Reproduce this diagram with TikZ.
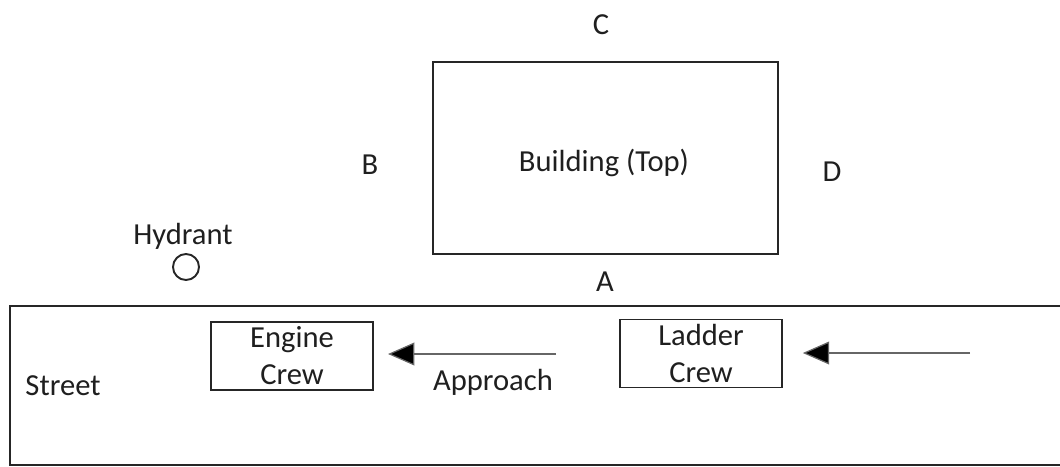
\documentclass[tikz,border=0pt]{standalone}
\usepackage{fontspec}
\setmainfont{Carlito}
\usetikzlibrary{arrows.meta}
\begin{document}
\begin{tikzpicture}[x=0.02cm,y=-0.02cm,
  every node/.style={font=\fontsize{17.4pt}{21pt}\selectfont, text=black!88},
  outline/.style={draw=black!85, line width=1.1pt},
  crewbox/.style={outline, minimum width=162*0.02cm, minimum height=68*0.02cm, inner sep=0pt, align=center},
  label/.style={inner sep=1pt},
  approach/.style={draw=black!60, line width=0.7pt, -{Triangle[length=15pt,width=13pt,fill=black]}}
]
  \useasboundingbox (0,0) rectangle (1060,466);

  % street strip, running off the right edge
  \draw[outline] (1080,306) -- (10,306) -- (10,465) -- (1080,465);
  \node[label] (street) at (63,386) {Street};

  % building footprint and its sides
  \node[outline, minimum width=345*0.02cm, minimum height=192*0.02cm, inner sep=0pt] (bldg) at (605.5,158) {};
  \node[label] (title) at (604,163) {Building (Top)};
  \node[label] (sideC) at (601,25) {C};
  \node[label] (sideB) at (370,165) {B};
  \node[label] (sideD) at (832,172) {D};
  \node[label] (sideA) at (605,282) {A};

  % hydrant
  \node[label] (hydtext) at (183,236) {Hydrant};
  \node[draw=black!85, line width=1.1pt, circle, minimum size=26*0.02cm, inner sep=0pt] (hydrant) at (186,267) {};

  % crews on the street
  \node[crewbox] (engine) at (292,356) {Engine\\Crew};
  \node[crewbox] (ladder) at (701,353.5) {Ladder\\Crew};

  % approach direction
  \coordinate (ladderfrom) at (970,353);
  \coordinate (enginefrom) at (556,354);
  \draw[approach, shorten >=11.3pt] (ladderfrom) -- (ladder.east |- ladderfrom);
  \draw[approach, shorten >=8pt] (enginefrom) -- (engine.east |- enginefrom);
  \node[label] (appr) at (493,382) {Approach};
\end{tikzpicture}
\end{document}
